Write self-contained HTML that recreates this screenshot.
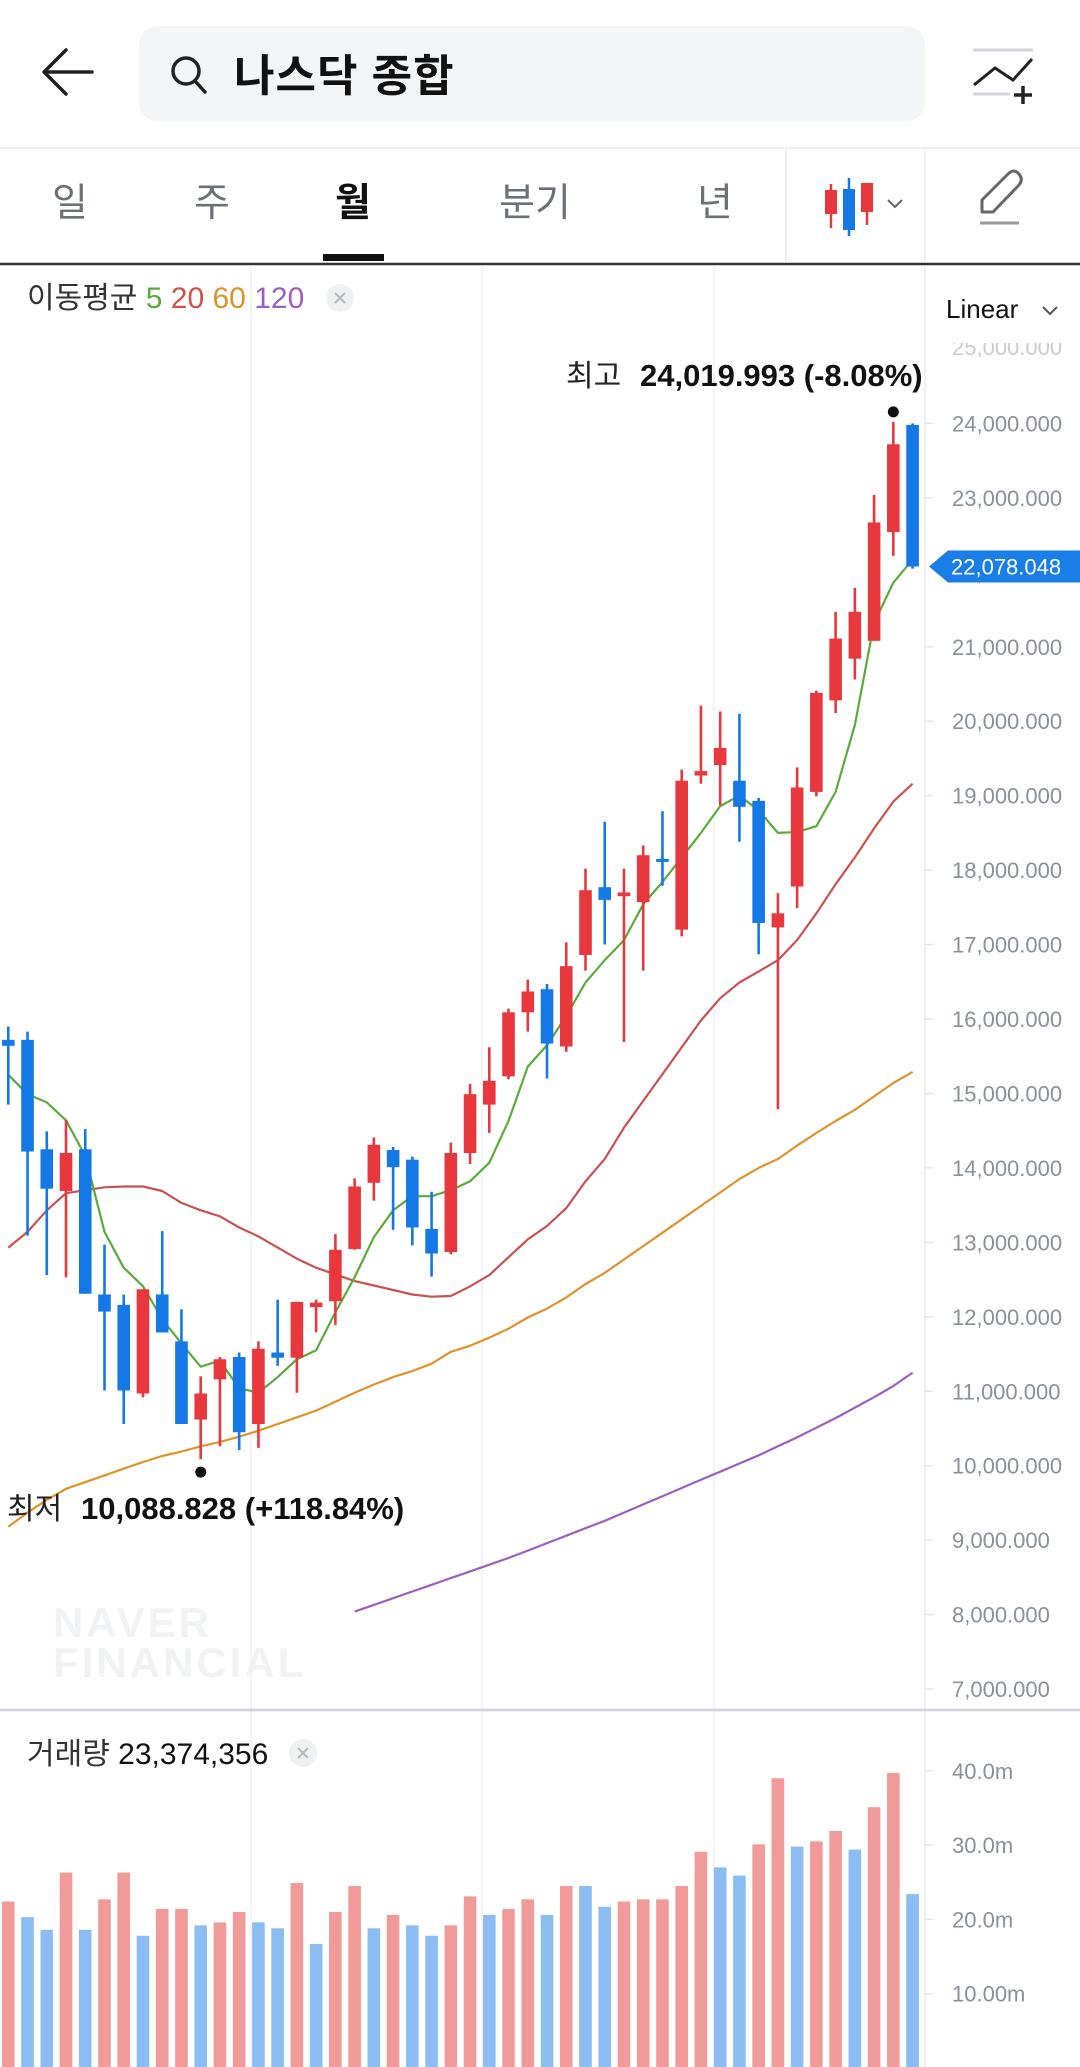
<!DOCTYPE html>
<html><head><meta charset="utf-8">
<style>
html,body{margin:0;padding:0;background:#fff;}
svg{display:block;font-family:"Liberation Sans","Noto Sans CJK KR",sans-serif;}
</style></head>
<body>
<svg id="root" width="1080" height="2067" viewBox="0 0 1080 2067" xmlns="http://www.w3.org/2000/svg">
  <!-- header -->
  <g>
    <path d="M92 72 H46 M66 50 L44 72 L66 94" stroke="#222" stroke-width="3.5" fill="none" stroke-linecap="round" stroke-linejoin="round"/>
  </g>
  <g>
    <rect x="139" y="26" width="786" height="95" rx="18" fill="#f4f5f7"/>
    <circle cx="186" cy="71" r="13" stroke="#222" stroke-width="3.5" fill="none"/>
    <line x1="195" y1="81" x2="205" y2="92" stroke="#222" stroke-width="3.5" stroke-linecap="round"/>
    <text x="234" y="91" font-size="44" font-weight="700" fill="#111" letter-spacing="1">나스닥 종합</text>
  </g>
  <g>
    <line x1="973" y1="50" x2="1033" y2="50" stroke="#d0d3d8" stroke-width="3"/>
    <line x1="973" y1="94" x2="1010" y2="94" stroke="#d0d3d8" stroke-width="3"/>
    <polyline points="974,85 995,68 1013,80 1032,59" stroke="#222" stroke-width="3" fill="none"/>
    <path d="M1023 86 V104 M1014 95 H1032" stroke="#222" stroke-width="3.5"/>
  </g>
  <line x1="0" y1="148" x2="1080" y2="148" stroke="#eef0f2" stroke-width="2"/>
  <!-- tabs -->
  <g font-size="39" text-anchor="middle">
    <text x="70" y="216" fill="#6b7076">일</text>
    <text x="212" y="216" fill="#6b7076">주</text>
    <text x="353" y="216" fill="#111" font-weight="700">월</text>
    <text x="535" y="216" fill="#6b7076">분기</text>
    <text x="715" y="216" fill="#6b7076">년</text>
  </g>
  <rect x="323" y="254" width="61" height="7" fill="#111"/>
  <line x1="786" y1="150" x2="786" y2="262" stroke="#eef0f2" stroke-width="2"/>
  <line x1="925" y1="150" x2="925" y2="262" stroke="#eef0f2" stroke-width="2"/>
  <g>
    <line x1="831" y1="184" x2="831" y2="228" stroke="#e8383d" stroke-width="2.5"/>
    <rect x="825" y="190" width="12" height="24" fill="#e8383d"/>
    <line x1="849" y1="178" x2="849" y2="236" stroke="#1478e6" stroke-width="2.5"/>
    <rect x="843" y="189" width="12" height="41" fill="#1478e6"/>
    <line x1="867" y1="183" x2="867" y2="225" stroke="#e8383d" stroke-width="2.5"/>
    <rect x="861" y="183" width="12" height="29" fill="#e8383d"/>
    <polyline points="888,200 895,207 902,200" stroke="#666" stroke-width="2" fill="none"/>
  </g>
  <g>
    <path d="M982 212 L982 200 L1008 174 Q1014 168 1019 174 Q1024 180 1018 186 L993 212 Z" stroke="#666" stroke-width="3" fill="none" stroke-linejoin="round"/>
    <line x1="980" y1="223" x2="1019" y2="223" stroke="#999" stroke-width="3"/>
  </g>
  <line x1="0" y1="264" x2="1080" y2="264" stroke="#333" stroke-width="2.5"/>

  <!-- grid -->
  <g id="grid" stroke="#f0f1f3" stroke-width="1.5">
    <line x1="251" y1="266" x2="251" y2="2067"/>
    <line x1="482" y1="266" x2="482" y2="2067"/>
    <line x1="714" y1="266" x2="714" y2="2067"/>
    <line x1="925" y1="266" x2="925" y2="2067" stroke="#e8ebee"/>
  </g>

  <!-- MA legend -->
  <g font-size="30">
    <text x="27" y="308" fill="#333">이동평균 <tspan fill="#5aaa3c">5</tspan> <tspan fill="#d0504c">20</tspan> <tspan fill="#e0922a">60</tspan> <tspan fill="#9b5fc0">120</tspan></text>
  </g>
  <g>
    <circle cx="340" cy="298" r="14" fill="#eef0f2"/>
    <path d="M335 293 L345 303 M345 293 L335 303" stroke="#b5b9be" stroke-width="2"/>
  </g>
  <g>
    <text x="946" y="318" font-size="26" fill="#111">Linear</text>
    <polyline points="1043,307 1050,314 1057,307" stroke="#555" stroke-width="2" fill="none"/>
  </g>

  <!-- watermark -->
  <g font-size="42" font-weight="700" fill="#f1f2f4" letter-spacing="3">
    <text x="53" y="1637">NAVER</text>
    <text x="53" y="1677">FINANCIAL</text>
  </g>

  <g id="price-axis"></g>
  <g id="ma-lines"></g>
  <g id="candles"></g>
  <g id="annotations"></g>

  <!-- volume -->
  <line x1="0" y1="1710" x2="1080" y2="1710" stroke="#cfd3d7" stroke-width="2.5"/>
  <g>
    <text x="27" y="1764" font-size="30" fill="#333">거래량 <tspan fill="#111">23,374,356</tspan></text>
  </g>
  <g>
    <circle cx="303" cy="1753" r="14" fill="#eef0f2"/>
    <path d="M298 1748 L308 1758 M308 1748 L298 1758" stroke="#b5b9be" stroke-width="2"/>
  </g>
  <g id="vol-axis"></g>
  <g id="volume"></g>
</svg>
<script>
// ---- data (values in millions) ----
const opens  = [15.72,15.72,14.25,13.69,14.25,12.30,12.16,10.97,12.30,11.67,10.62,11.16,11.46,10.56,11.52,11.45,12.13,12.21,12.91,13.80,14.24,14.11,13.18,12.87,14.20,14.85,15.23,16.09,16.40,15.63,16.86,17.77,17.65,17.57,18.15,17.20,19.27,19.41,19.20,18.93,17.23,17.78,19.05,20.28,20.84,21.08,22.54,23.98];
const closes = [15.64,14.22,13.72,14.20,12.31,12.07,11.01,12.37,11.79,10.56,10.97,11.43,10.45,11.57,11.45,12.20,12.19,12.90,13.75,14.31,14.01,13.20,12.85,14.20,14.99,15.17,16.09,16.37,15.67,16.71,17.73,17.60,17.70,18.20,18.11,19.20,19.33,19.64,18.85,17.29,17.42,19.11,20.38,21.11,21.47,22.67,23.72,22.078];
const highs  = [15.90,15.83,14.49,14.64,14.52,12.97,12.30,12.37,13.15,12.10,11.20,11.46,11.52,11.67,12.23,12.20,12.23,13.11,13.86,14.41,14.28,14.15,13.68,14.34,15.13,15.62,16.14,16.53,16.47,17.03,18.02,18.65,18.02,18.33,18.79,19.35,20.21,20.13,20.10,18.97,17.69,19.38,20.41,21.47,21.79,23.04,24.02,24.00];
const lows   = [14.85,13.09,12.56,12.53,12.31,11.01,10.56,10.92,11.79,10.56,10.089,10.26,10.21,10.24,11.34,10.98,11.79,11.89,12.90,13.56,13.17,12.96,12.54,12.84,14.05,14.47,15.19,15.83,15.20,15.56,16.65,17.00,15.69,16.65,17.79,17.11,19.16,18.87,18.38,16.87,14.79,17.49,18.99,20.11,20.56,21.08,22.22,22.05];
const ma5   = [15.25,14.99,14.88,14.64,14.16,13.14,12.66,12.41,11.97,11.64,11.33,11.41,11.04,10.98,11.19,11.43,11.55,12.06,12.53,13.07,13.43,13.62,13.62,13.70,13.82,14.07,14.63,15.36,15.65,16.04,16.49,16.79,17.06,17.54,17.84,18.17,18.50,18.86,19.00,18.80,18.50,18.51,18.59,19.05,19.95,21.32,21.86,22.17];
const ma20  = [12.93,13.14,13.43,13.66,13.70,13.74,13.75,13.75,13.69,13.53,13.43,13.35,13.20,13.08,12.93,12.78,12.66,12.57,12.48,12.42,12.36,12.30,12.27,12.28,12.41,12.56,12.80,13.04,13.22,13.46,13.82,14.12,14.54,14.90,15.26,15.62,15.98,16.28,16.49,16.64,16.79,17.06,17.42,17.81,18.17,18.56,18.92,19.16];
const ma60  = [9.18,9.37,9.54,9.69,9.78,9.87,9.96,10.05,10.13,10.19,10.26,10.32,10.39,10.47,10.56,10.65,10.74,10.86,10.98,11.09,11.19,11.27,11.37,11.53,11.61,11.72,11.84,11.99,12.11,12.26,12.44,12.59,12.77,12.95,13.13,13.31,13.49,13.67,13.85,14.00,14.12,14.30,14.47,14.63,14.78,14.96,15.14,15.29];
const ma120 = [null,null,null,null,null,null,null,null,null,null,null,null,null,null,null,null,null,null,8.04,8.13,8.22,8.31,8.40,8.49,8.58,8.67,8.76,8.86,8.96,9.06,9.16,9.26,9.37,9.48,9.59,9.70,9.81,9.92,10.03,10.14,10.26,10.38,10.51,10.64,10.78,10.92,11.07,11.25];
const volumes = [22.4,20.3,18.6,26.3,18.6,22.7,26.3,17.8,21.4,21.4,19.2,19.6,21.0,19.6,18.8,24.9,16.7,21.0,24.5,18.8,20.6,19.2,17.8,19.2,23.1,20.6,21.4,22.7,20.6,24.5,24.5,21.7,22.4,22.7,22.7,24.5,29.1,27.0,25.9,30.1,39.0,29.8,30.5,31.9,29.4,35.1,39.7,23.4];
const volUp = [1,0,0,1,0,1,1,0,1,1,0,1,1,0,0,1,0,1,1,0,1,0,0,1,1,0,1,1,0,1,0,0,1,1,1,1,1,0,0,1,1,0,1,1,0,1,1,0];
const priceTicks = [24,23,22,21,20,19,18,17,16,15,14,13,12,11,10,9,8,7];
const priceTickLabels = ["24,000.000","23,000.000","22,000.000","21,000.000","20,000.000","19,000.000","18,000.000","17,000.000","16,000.000","15,000.000","14,000.000","13,000.000","12,000.000","11,000.000","10,000.000","9,000.000","8,000.000","7,000.000"];
const volTicks = [40,30,20,10];
const volTickLabels = ["40.0m","30.0m","20.0m","10.00m"];
const lastPrice = 22.078048;
const lastPriceLabel = "22,078.048";
const highLabel = "24,019.993 (-8.08%)";
const lowLabel = "10,088.828 (+118.84%)";

// ---- axis functions ----
const NS = "http://www.w3.org/2000/svg";
const xAt = i => 8.3 + i * 19.24;
const yP = v => 423.4 + (24 - v) * 74.45;
const yV = v => 2068 - v * 7.43;
function mk(tag, attrs, parent) {
  const e = document.createElementNS(NS, tag);
  for (const k in attrs) e.setAttribute(k, attrs[k]);
  parent.appendChild(e);
  return e;
}
const RED = "#e8383d", BLUE = "#1478e6";

// price axis
const pa = document.getElementById("price-axis");
priceTicks.forEach((t, k) => {
  if (t === 22) return;
  const y = yP(t);
  const tk = mk("line", {x1: 925, x2: 933, y1: y, y2: y, stroke: "#e3e6e9", "stroke-width": 1.5}, pa);
  
  
  const tx = mk("text", {x: 952, y: y + 8, "font-size": 22, fill: "#8a9099"}, pa);
  
  
  tx.textContent = priceTickLabels[k];
});
{
  const tx = mk("text", {x: 952, y: 355, "font-size": 22, fill: "#c8ccd1"}, pa);
  
  
  tx.textContent = "25,000.000";
  mk("rect", {x: 940, y: 323, width: 140, height: 20, fill: "#fff"}, pa);
}
// current price tag
{
  const y = yP(lastPrice);
  const g = mk("g", {}, pa);
  
  
  mk("path", {d: `M929 ${y} L948 ${y-16} H1080 V${y+16} H948 Z`, fill: "#1a7ee8"}, g);
  const tx = mk("text", {x: 951, y: y + 8, "font-size": 22, fill: "#fff"}, g);
  tx.textContent = lastPriceLabel;
}

// MA lines
const ml = document.getElementById("ma-lines");
function drawLine(arr, color, name) {
  let d = "";
  arr.forEach((v, i) => {
    if (v === null) return;
    d += (d ? " L" : "M") + xAt(i).toFixed(1) + " " + yP(v).toFixed(1);
  });
  const p = mk("path", {d: d, stroke: color, "stroke-width": 2.2, fill: "none", "stroke-linejoin": "round"}, ml);
  
  
}
drawLine(ma120, "#9b5fc0", "ma120-line");
drawLine(ma60, "#e0922a", "ma60-line");
drawLine(ma20, "#c8524f", "ma20-line");

// candles
const cg = document.getElementById("candles");
opens.forEach((o, i) => {
  const c = closes[i], up = c >= o, col = up ? RED : BLUE;
  const x = xAt(i);
  const g = mk("g", {}, cg);
  
  
  mk("line", {x1: x, x2: x, y1: yP(highs[i]), y2: yP(lows[i]), stroke: col, "stroke-width": 2.6}, g);
  const top = yP(Math.max(o, c)), bot = yP(Math.min(o, c));
  mk("rect", {x: x - 6.3, y: top, width: 12.6, height: Math.max(bot - top, 3), fill: col}, g);
});
drawLine(ma5, "#5aaa3c", "ma5-line");

// annotations
const an = document.getElementById("annotations");
{
  let hi = 0, lo = 0;
  highs.forEach((v, i) => { if (v > highs[hi]) hi = i; });
  lows.forEach((v, i) => { if (v < lows[lo]) lo = i; });
  const d1 = mk("circle", {cx: xAt(hi), cy: yP(highs[hi]) - 10, r: 5.5, fill: "#111"}, an);
  
  
  const t1 = mk("text", {x: 566, y: 386, "font-size": 30, fill: "#222"}, an);
  
  
  t1.innerHTML = '최고 <tspan x="640" font-weight="700" fill="#111" font-size="31">' + highLabel + '</tspan>';
  const d2 = mk("circle", {cx: xAt(lo), cy: yP(lows[lo]) + 13, r: 5.5, fill: "#111"}, an);
  
  
  const t2 = mk("text", {x: 7, y: 1519, "font-size": 30, fill: "#222"}, an);
  
  
  t2.innerHTML = '최저 <tspan x="81" font-weight="700" fill="#111" font-size="31">' + lowLabel + '</tspan>';
}

// volume axis
const va = document.getElementById("vol-axis");
volTicks.forEach((t, k) => {
  const y = yV(t);
  const tk = mk("line", {x1: 925, x2: 933, y1: y, y2: y, stroke: "#e3e6e9", "stroke-width": 1.5}, va);
  
  
  const tx = mk("text", {x: 952, y: y + 8, "font-size": 22, fill: "#8a9099"}, va);
  
  
  tx.textContent = volTickLabels[k];
});
// volume bars
const vg = document.getElementById("volume");
volumes.forEach((v, i) => {
  const y = yV(v);
  const r = mk("rect", {x: xAt(i) - 6.3, y: y, width: 12.6, height: 2067 - y, fill: volUp[i] ? "#f09a9a" : "#8bbcf2"}, vg);
  
  
});
</script>
</body></html>
